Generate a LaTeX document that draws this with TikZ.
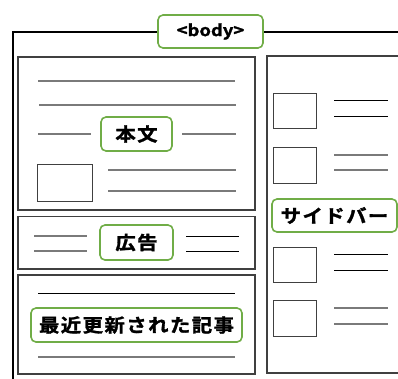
\documentclass[tikz,border=0pt]{standalone}
\usepackage{fontspec}
\newfontfamily\jpfont{Noto Sans CJK JP}[FakeStretch=1.1,LetterSpace=8,BoldFont={Noto Sans CJK JP Bold},BoldFeatures={FakeBold=1.5}]
\newfontfamily\latfont{Noto Sans CJK JP}[FakeStretch=1.15,BoldFont={Noto Sans CJK JP Bold},BoldFeatures={FakeBold=1.5}]
\definecolor{lblgreen}{HTML}{70AD47}
\definecolor{boxgray}{HTML}{404040}
\definecolor{linegray}{HTML}{7A7A7A}
\tikzset{
  lbl/.style={draw=lblgreen, line width=1.6pt, rounded corners=5pt, fill=white,
    inner sep=0pt, text=black, font=\fontsize{18.5pt}{18.5pt}\jpfont\bfseries\selectfont},
  area/.style={draw=boxgray, line width=1.1pt},
  thumb/.style={draw=boxgray, line width=1pt},
  gline/.style={draw=linegray, line width=1.2pt},
  bline/.style={draw=black, line width=0.9pt},
}
\begin{document}
\begin{tikzpicture}[x=1pt,y=-1pt]
\useasboundingbox (0,0) rectangle (398,378);
\clip (0,0) rectangle (398,378);
% outer body frame
\draw[black, line width=2pt] (420,32) -| (13,400);
% areas
\draw[area] (18,57) rectangle (255,210);
\draw[area] (18,216.5) rectangle (255,269);
\draw[area] (18,275) rectangle (255,374);
\draw[area] (267,56) rectangle (420,373);
% thumbnails
\draw[thumb] (37,164) rectangle (92,201);
\draw[thumb] (273,93) rectangle (316,128);
\draw[thumb] (273,147) rectangle (316,183);
\draw[thumb] (273,247) rectangle (316,282);
\draw[thumb] (273,300) rectangle (316,336);
% main area lines
\draw[gline] (38,81) -- (235,81);
\draw[gline] (39,105) -- (236,105);
\draw[gline] (38,134) -- (91,134);
\draw[gline] (182,134) -- (236,134);
\draw[gline] (108,170) -- (236,170);
\draw[gline] (108,191) -- (236,191);
% ad lines
\draw[gline] (34,236) -- (87,236);
\draw[gline] (34,251) -- (87,251);
\draw[bline] (186,236) -- (239,236);
\draw[bline] (186,251) -- (239,251);
% recent lines
\draw[bline] (38,293) -- (235,293);
\draw[gline] (38,357) -- (235,357);
% sidebar lines
\draw[bline] (334,100) -- (388,100);
\draw[bline] (334,116) -- (388,116);
\draw[gline] (334,155) -- (388,155);
\draw[gline] (334,170) -- (388,170);
\draw[bline] (334,254) -- (388,254);
\draw[bline] (334,270) -- (388,270);
\draw[gline] (334,308) -- (388,308);
\draw[gline] (334,324) -- (388,324);
% labels
\node[lbl, minimum width=105pt, minimum height=33pt,
  font=\fontsize{16pt}{16pt}\latfont\bfseries\selectfont] (body) at (210.5,31.5) {<body>};
\node[lbl, minimum width=71pt, minimum height=34pt] (honbun) at (136.5,134) {本文};
\node[lbl, minimum width=73pt, minimum height=35pt] (kokoku) at (136.5,242.5) {広告};
\node[lbl, minimum width=211pt, minimum height=34pt] (recent) at (136.5,325) {最近更新された記事};
\node[lbl, minimum width=125pt, minimum height=33pt] (sidebar) at (334.5,215.5) {サイドバー};
\end{tikzpicture}
\end{document}
